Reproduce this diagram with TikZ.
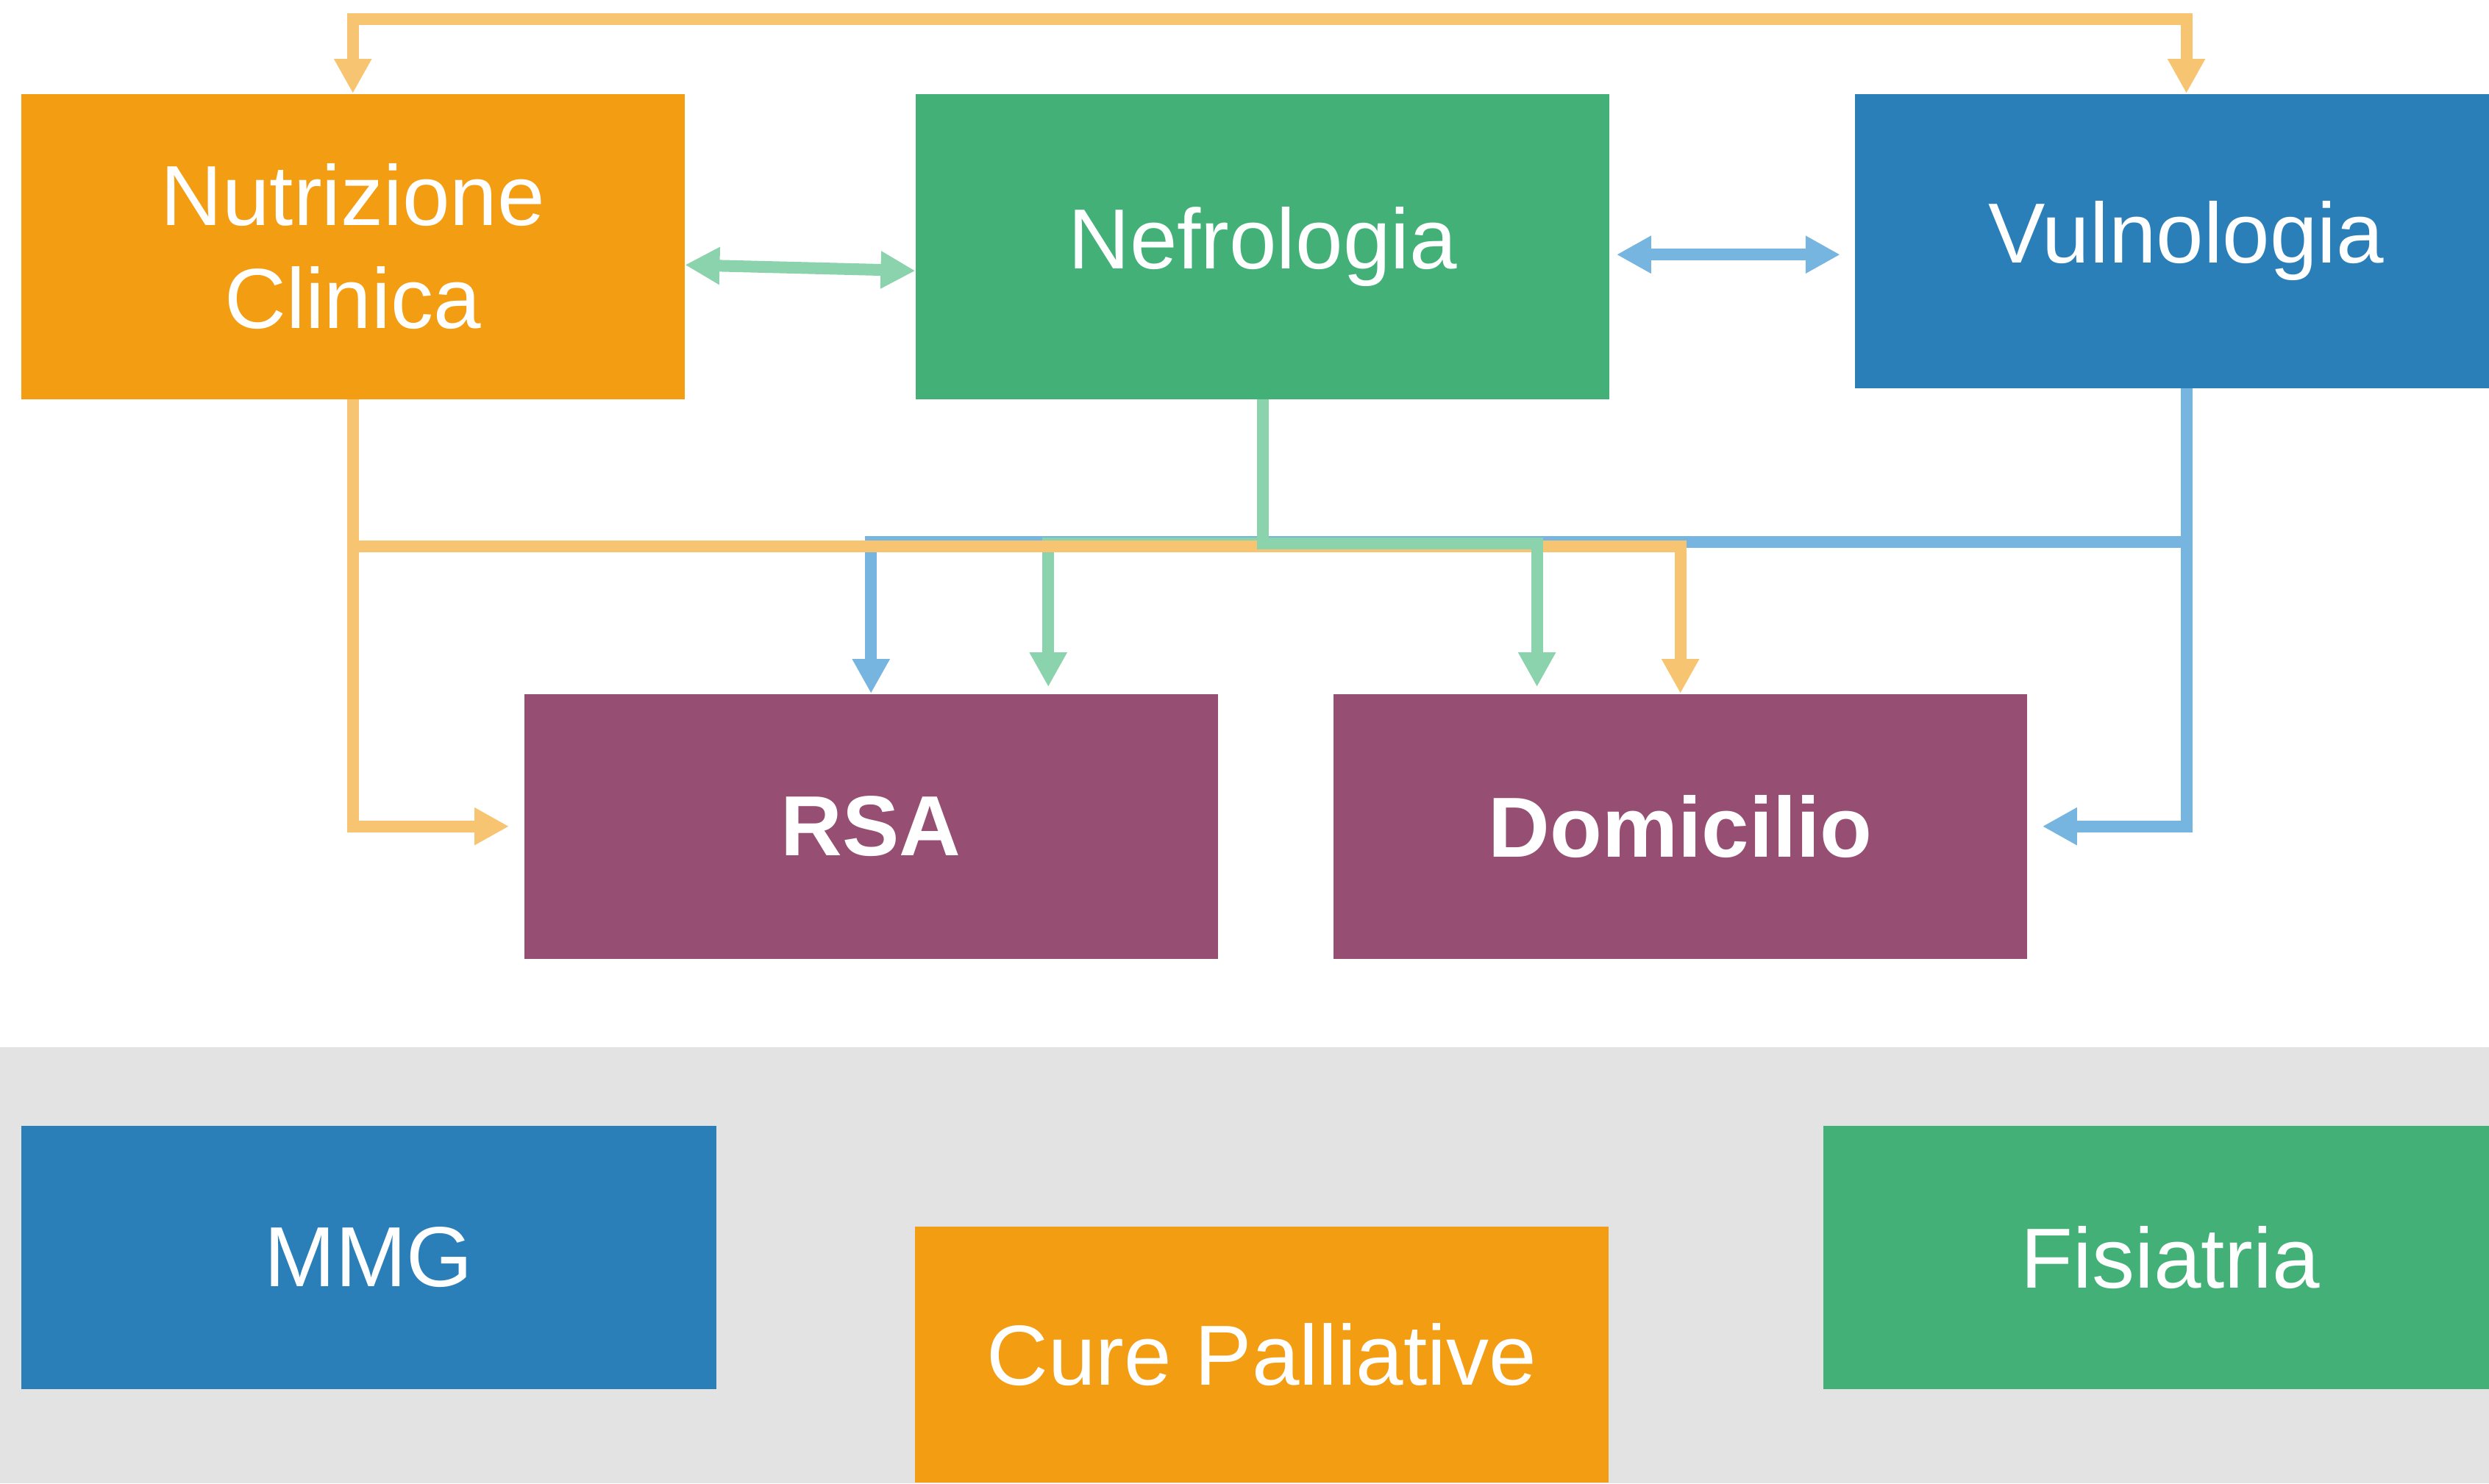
\documentclass[tikz,border=0pt]{standalone}
\usepackage{fontspec}
\setmainfont{Liberation Sans}
\usetikzlibrary{positioning,arrows.meta}

\definecolor{boxorange}{HTML}{F29D12}
\definecolor{boxgreen}{HTML}{43B177}
\definecolor{boxblue}{HTML}{2B7FB8}
\definecolor{boxpurple}{HTML}{964F72}
\definecolor{lineorange}{HTML}{F7C472}
\definecolor{linegreen}{HTML}{8AD3AC}
\definecolor{lineblue}{HTML}{76B5DF}
\definecolor{bandgray}{HTML}{E3E3E3}

\begin{document}
\begin{tikzpicture}[>={Triangle[width=4.8mm,length=4.7mm]},
    box/.style={rectangle, inner sep=0pt, text=white, align=center, font=\fontsize{33}{40}\selectfont},
    top box/.style={box, minimum height=4.15cm},
    low box/.style={box, minimum width=9.43cm, minimum height=3.6cm},
    oline/.style={draw=lineorange, line width=1.6mm},
    gline/.style={draw=linegreen, line width=1.6mm},
    bline/.style={draw=lineblue, line width=1.6mm}]

            \useasboundingbox (0,0) rectangle (33.84,-20.17);
            \clip (0,0) rectangle (33.84,-20.17);
            \fill[bandgray] (0,-14.24) rectangle (33.84,-20.17);

            \node[top box, fill=boxorange, minimum width=9.02cm, anchor=north west] (nutr) at (0.28,-1.27) {Nutrizione\\Clinica};
            \node[top box, fill=boxgreen, minimum width=9.43cm] (nefr) [right=3.13cm of nutr] {Nefrologia};
            \node[box, fill=boxblue, minimum width=9.02cm, minimum height=4cm] (vuln) [right=3.32cm of nefr.north east, anchor=north west] {Vulnologia};

            \node[low box, fill=boxpurple, font=\fontsize{33}{40}\selectfont\bfseries, anchor=north west] (rsa) at (7.12,-9.43) {RSA};
            \node[low box, fill=boxpurple, font=\fontsize{33}{40}\selectfont\bfseries] (dom) [right=1.56cm of rsa] {Domicilio};

            \node[low box, fill=boxblue, minimum width=9.45cm, minimum height=3.58cm, anchor=north west] (mmg) at (0.28,-15.3) {MMG};
            \node[low box, fill=boxorange, minimum height=3.48cm, anchor=north west] (cure) at (12.43,-16.67) {Cure Palliative};
            \node[low box, fill=boxgreen, minimum width=9.44cm, minimum height=3.58cm, anchor=north west] (fis) at (24.78,-15.3) {Fisiatria};

            \draw[bline,->] (vuln.south) -- ++(0,-2.09) -| (rsa.north);
            \draw[bline,->,shorten >=2mm] (vuln.south) |- (dom.east);
            \draw[gline,->,shorten >=0.9mm] (nefr.south) -- ++(0,-1.96) -| ([xshift=2.41cm]rsa.north);
            \draw[oline,<->] (nutr.north) -- ++(0,1.01) -| (vuln.north);
            \draw[oline,->,shorten >=2mm] (nutr.south) |- (rsa.west);
            \draw[oline,->] (nutr.south) -- ++(0,-2) -| (dom.north);
            \draw[gline,->,shorten >=0.9mm] (nefr.south) -- ++(0,-1.96) -| ([xshift=-1.95cm]dom.north);
            \draw[gline,<->] ([yshift=-2.5mm]nutr.east) -- ([yshift=-3.3mm]nefr.west);
            \draw[bline,<->,shorten <=0.9mm,shorten >=1.9mm] ([yshift=-1.1mm]nefr.east) -- ([yshift=-1.1mm]nefr.east -| vuln.west);

            ;
        \end{tikzpicture}
\end{document}
